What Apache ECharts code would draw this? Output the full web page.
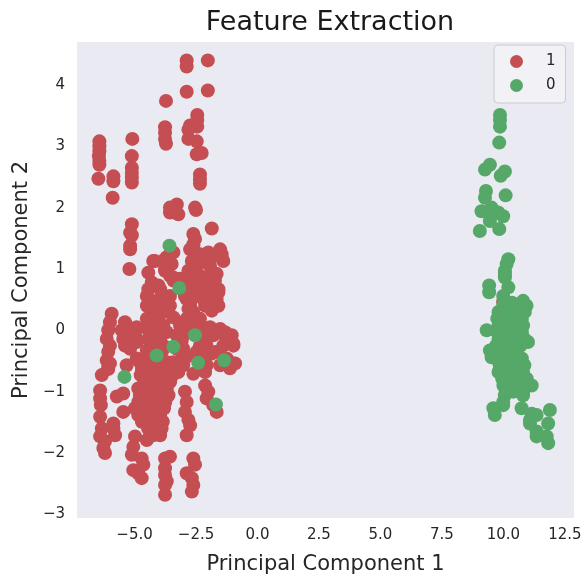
<!DOCTYPE html>
<html>
<head>
<meta charset="utf-8">
<title>Feature Extraction</title>
<script src="https://cdn.jsdelivr.net/npm/echarts@6.0.0/dist/echarts.min.js"></script>
<style>
  html, body { margin: 0; padding: 0; background: #ffffff; }
  #chart { width: 587px; height: 580px; }
</style>
</head>
<body>
<div id="chart"></div>
<script>
// PCA projection of the two classes: [PC1, PC2]
const class1Points = [
  // upper spread
  [-2.88,4.40],[-2.88,4.30],[-2.02,4.40],[-2.88,3.89],[-2.02,3.91],[-3.72,3.74],
  [-2.45,3.51],[-2.45,3.43],[-2.74,3.34],[-2.45,3.32],[-2.81,3.27],
  [-3.76,3.31],[-3.76,3.22],[-3.76,3.12],[-3.72,3.04],
  [-2.81,3.12],[-2.47,3.08],[-2.47,2.87],[-2.27,2.89],
  [-2.34,2.54],[-2.34,2.46],[-2.34,2.39],
  [-6.43,3.08],[-6.43,3.00],[-6.43,2.92],[-6.45,2.84],[-6.43,2.76],[-6.43,2.70],
  [-6.47,2.47],[-5.86,2.51],[-5.86,2.43],[-5.89,2.16],
  [-5.09,3.12],[-5.11,2.84],[-5.11,2.65],[-5.11,2.57],[-5.11,2.49],[-5.11,2.41],
  [-3.28,2.05],[-3.56,2.00],[-2.54,2.00],
  // middle band
  [-3.56,1.92],[-3.22,1.89],[-2.50,1.96],
  [-5.11,1.73],[-5.18,1.59],[-5.11,1.55],[-5.18,1.38],[-5.18,1.32],[-5.21,1.00],
  [-1.86,1.66],
  [-2.61,1.57],[-2.54,1.49],[-2.61,1.40],[-2.74,1.32],[-2.54,1.27],[-2.47,1.19],[-2.41,1.11],[-2.61,1.08],[-2.67,1.00],
  [-3.56,1.24],[-3.76,1.16],[-3.63,1.05],[-3.76,0.97],[-3.56,0.89],
  [-1.52,1.32],[-1.46,1.24],[-1.39,1.13],
  [-2.00,1.27],[-2.00,1.13],[-1.93,1.05],
  [-4.24,1.13],[-4.44,0.94],
  [-2.74,0.89],[-2.20,0.86],[-2.47,0.78],[-2.81,0.73],
  [-1.66,0.92],[-1.59,0.67],
  [-3.42,0.81],[-3.15,0.84],
  [-4.30,0.78],[-4.44,0.67],[-4.50,0.56],[-4.30,0.48],[-4.50,0.40],[-4.24,0.35],[-3.96,0.67],[-3.96,0.51],[-3.89,0.40],
  [-3.56,0.56],[-3.56,0.40],[-3.63,0.30],[-3.42,0.21],
  [-2.88,0.51],[-2.74,0.40],[-2.61,0.30],[-2.81,0.19],[-2.54,0.11],[-2.88,0.05],
  [-1.66,0.51],[-1.59,0.40],[-1.86,0.32],
  [-4.17,1.13],[-3.69,1.19],[-3.49,1.08],[-3.76,1.00],[-3.42,1.27],
  [-2.61,1.38],[-2.34,1.24],[-2.67,1.13],[-2.40,1.08],[-1.93,1.16],[-1.52,1.27],[-1.46,1.19],
  [-4.50,0.19],[-4.47,0.02],[-4.47,-0.62],
  [-4.03,0.73],[-3.89,0.56],[-4.10,0.40],[-3.83,0.32],[-4.03,0.19],[-3.96,-0.03],[-4.10,-0.19],[-3.89,-0.35],[-3.96,-0.52],[-3.69,-0.65],
  [-3.42,0.86],[-3.22,0.81],[-3.08,0.67],[-2.95,0.56],
  [-2.81,0.97],[-2.61,0.84],[-2.67,0.67],[-2.67,0.51],[-2.81,0.35],[-2.88,0.19],[-3.08,0.11],[-2.61,0.08],[-2.34,0.19],[-2.13,0.40],[-2.27,0.67],[-2.34,0.89],
  [-2.07,0.86],[-1.73,0.81],[-1.93,0.67],[-2.20,0.51],[-1.59,0.62],[-1.86,0.48],[-2.00,0.40],
  [-2.34,0.05],[-2.07,0.02],[-2.20,-0.11],[-1.80,-0.08],[-1.52,0.02],[-1.39,-0.06],[-0.98,-0.25],[-1.05,-0.08],
  [-2.95,-0.06],[-3.22,-0.19],[-3.02,-0.30],[-2.88,-0.43],[-3.02,-0.57],[-3.22,-0.68],[-3.56,-0.73],
  [-2.34,-0.25],[-2.47,-0.35],[-2.20,-0.46],[-2.34,-0.57],[-2.13,-0.68],[-2.61,-0.71],
  [-1.66,-0.35],[-1.39,-0.25],[-1.25,-0.46],[-1.52,-0.57],[-1.12,-0.62],[-0.91,-0.54],
  [-5.32,0.08],[-5.05,-0.03],[-5.32,-0.14],[-4.91,-0.14],[-5.18,-0.30],[-4.91,-0.46],[-5.32,-0.57],
  [-5.93,0.27],[-6.00,0.13],[-6.07,0.00],[-6.13,-0.14],[-6.00,-0.25],[-6.07,-0.35],[-6.13,-0.49],[-6.07,-0.60],
  [-5.39,0.13],[-5.52,0.00],[-5.46,-0.14],[-5.39,-0.25],
  [-4.91,0.05],[-4.98,-0.08],[-4.91,-0.19],
  [-4.37,0.13],[-4.30,0.00],[-4.44,-0.14],[-4.30,-0.25],[-4.50,-0.33],[-4.30,-0.44],[-4.37,-0.54],
  [-3.83,0.08],[-3.69,-0.03],[-3.96,-0.14],[-3.76,-0.27],
  [-3.15,0.08],[-3.28,-0.08],[-3.08,-0.17],[-3.28,-0.30],[-3.02,-0.41],[-3.22,-0.52],
  [-1.93,0.05],[-2.13,-0.14],[-2.07,-0.25],[-1.86,-0.38],[-2.20,-0.46],[-2.07,-0.57],
  [-1.32,-0.03],[-0.98,-0.22],[-0.98,-0.54],
  // lower spread
  [-6.33,-0.73],[-6.07,-0.63],[-6.00,-0.54],
  [-6.40,-0.98],[-6.40,-1.11],[-6.37,-1.22],[-6.40,-1.41],[-6.33,-1.60],[-6.40,-1.73],[-6.20,-1.81],[-6.27,-1.92],[-6.20,-2.00],
  [-5.86,-1.60],[-5.79,-1.71],[-5.86,-1.52],
  [-5.72,-1.08],[-5.46,-1.03],[-5.46,-1.33],
  [-4.98,-1.73],[-5.05,-1.90],[-5.11,-2.03],[-5.05,-2.28],[-4.85,-2.33],[-4.71,-2.41],[-4.50,-1.79],
  [-4.71,-2.09],[-4.64,-2.19],
  [-3.76,-2.09],[-3.56,-2.06],[-3.76,-2.25],[-3.76,-2.36],[-3.69,-2.46],[-3.76,-2.52],[-3.76,-2.68],
  [-2.61,-2.09],[-2.54,-2.19],[-2.88,-2.33],[-2.67,-2.41],[-2.61,-2.52],[-2.67,-2.63],
  [-2.95,-1.00],[-2.88,-1.17],[-2.95,-1.33],[-2.81,-1.46],[-2.74,-1.55],[-2.88,-1.71],
  [-2.13,-0.90],[-2.00,-1.00],[-2.07,-1.11],[-1.80,-1.22],[-1.66,-1.33],
  [-4.78,-0.52],[-4.50,-0.52],[-4.24,-0.52],[-3.96,-0.52],[-3.69,-0.52],[-3.42,-0.52],[-3.28,-0.55],
  [-4.70,-0.63],[-4.40,-0.63],[-4.15,-0.63],[-3.90,-0.63],[-3.60,-0.63],[-3.35,-0.63],
  [-4.75,-0.73],[-4.50,-0.73],[-4.24,-0.73],[-3.96,-0.73],[-3.69,-0.73],[-3.45,-0.73],
  [-4.60,-0.84],[-4.30,-0.84],[-4.05,-0.84],[-3.80,-0.84],[-3.55,-0.84],
  [-4.85,-0.95],[-4.50,-0.95],[-4.24,-0.95],[-3.96,-0.95],[-3.69,-0.95],
  [-4.78,-1.06],[-4.45,-1.06],[-4.15,-1.06],[-3.90,-1.06],[-3.62,-1.06],
  [-4.85,-1.17],[-4.55,-1.17],[-4.24,-1.17],[-3.96,-1.17],[-3.75,-1.17],
  [-4.98,-1.27],[-4.65,-1.27],[-4.35,-1.27],[-4.05,-1.27],[-3.80,-1.27],
  [-4.85,-1.38],[-4.55,-1.38],[-4.24,-1.38],[-3.96,-1.38],
  [-4.70,-1.49],[-4.40,-1.49],[-4.10,-1.49],[-3.85,-1.49],
  [-4.45,-1.60],[-4.15,-1.60],[-3.90,-1.60],
  [-4.24,-1.71],[-3.96,-1.71],
  [9.99,0.46]
];

const class0Points = [
  // mixed into the left cluster
  [-3.58,1.38],[-3.18,0.69],[-4.10,-0.41],[-3.42,-0.27],[-2.54,-0.08],[-2.41,-0.53],[-1.36,-0.49],[-5.41,-0.76],[-1.69,-1.21],
  // right cluster, upper arm
  [9.86,3.51],[9.86,3.43],[9.86,3.32],[9.83,3.06],
  [9.45,2.70],[9.25,2.62],[10.06,2.59],[9.89,2.52],
  [9.29,2.27],[9.25,2.16],[10.09,2.20],
  [9.11,1.94],[9.52,2.00],[9.52,1.89],[9.79,1.92],[9.99,1.86],[9.45,1.78],[9.04,1.62],[9.83,1.65],
  [10.20,1.16],[10.13,1.08],[10.06,0.97],[10.06,0.89],[10.06,0.94],[10.06,0.86],
  [9.42,0.73],[9.42,0.62],[10.20,0.70],[9.99,0.56],
  [10.80,0.48],[10.94,0.40],[10.67,0.38],[10.87,0.30],
  [10.00,0.42],[10.35,0.45],[10.60,0.42],
  // right cluster, core
  [9.80,0.30],[10.05,0.30],[10.30,0.30],[10.55,0.30],
  [9.75,0.19],[10.00,0.19],[10.25,0.19],[10.50,0.19],[10.75,0.19],
  [9.80,0.08],[10.05,0.08],[10.30,0.08],[10.55,0.08],[10.80,0.08],
  [9.75,-0.03],[10.00,-0.03],[10.25,-0.03],[10.50,-0.03],[10.75,-0.03],
  [9.80,-0.14],[10.05,-0.14],[10.30,-0.14],[10.55,-0.14],[10.85,-0.14],
  [9.70,-0.25],[9.95,-0.25],[10.20,-0.25],[10.45,-0.25],[10.70,-0.25],
  [9.80,-0.35],[10.05,-0.35],[10.30,-0.35],[10.55,-0.35],
  [9.70,-0.46],[9.95,-0.46],[10.20,-0.46],[10.45,-0.46],[10.75,-0.46],
  [9.85,-0.57],[10.10,-0.57],[10.35,-0.57],[10.60,-0.57],[10.85,-0.57],
  [9.80,-0.68],[10.05,-0.68],[10.30,-0.68],[10.55,-0.68],[10.80,-0.68],
  [9.95,-0.79],[10.20,-0.79],[10.45,-0.79],[10.70,-0.79],[10.95,-0.79],
  [10.00,-0.90],[10.25,-0.90],[10.50,-0.90],
  [10.10,-1.00],[10.40,-1.00],[10.65,-1.00],
  [9.32,0.00],[11.00,-0.19],[9.45,-0.33],[9.52,-0.44],
  // right cluster, lower tail
  [11.15,-0.90],[10.80,-1.00],[10.80,-1.06],
  [10.06,-1.06],[9.99,-1.17],[9.99,-1.22],
  [9.59,-1.27],[9.65,-1.38],
  [10.74,-1.27],[11.15,-1.36],[11.35,-1.38],[11.08,-1.46],[11.08,-1.52],
  [11.89,-1.30],[11.82,-1.52],
  [11.35,-1.65],[11.35,-1.73],[11.76,-1.73],[11.82,-1.84]
];

const xTickValues = [-5, -2.5, 0, 2.5, 5, 7.5, 10, 12.5];
const xTickLabels = ['\u22125.0', '\u22122.5', '0.0', '2.5', '5.0', '7.5', '10.0', '12.5'];
const yTickValues = [-3, -2, -1, 0, 1, 2, 3, 4];
const yTickLabels = ['\u22123', '\u22122', '\u22121', '0', '1', '2', '3', '4'];

const FONT = 'DejaVu Sans';
const INK = '#262626';

function labelFor(values, labels) {
  return function (v) {
    for (let i = 0; i < values.length; i++) {
      if (Math.abs(values[i] - v) < 1e-6) return labels[i];
    }
    return '';
  };
}

const chart = echarts.init(document.getElementById('chart'), null, { renderer: 'canvas' });

chart.setOption({
  animation: false,
  backgroundColor: '#ffffff',
  title: {
    text: 'Feature Extraction',
    left: 325,
    textAlign: 'center',
    top: 4,
    textStyle: { fontFamily: FONT, fontSize: 27, fontWeight: 'normal', color: '#1a1a1a' }
  },
  legend: {
    orient: 'vertical',
    left: 494,
    top: 45,
    padding: [9, 10, 10, 16],
    itemWidth: 13,
    itemHeight: 13,
    itemGap: 9,
    icon: 'circle',
    backgroundColor: 'rgba(255,255,255,0.35)',
    borderColor: '#cccccc',
    borderWidth: 1,
    borderRadius: 4,
    textStyle: { fontFamily: FONT, fontSize: 15, color: INK, padding: [0, 0, 0, 18] },
    data: ['1', '0']
  },
  grid: {
    left: 77, right: 13, top: 42, bottom: 60,
    show: true,
    backgroundColor: '#EAEAF2',
    borderWidth: 0
  },
  xAxis: {
    type: 'value',
    min: -7.34,
    max: 12.87,
    name: 'Principal Component 1',
    nameLocation: 'middle',
    nameGap: 36,
    nameTextStyle: { fontFamily: FONT, fontSize: 21, color: INK },
    axisLine: { show: false },
    axisTick: { show: false },
    splitLine: { show: false },
    axisLabel: {
      customValues: xTickValues,
      formatter: labelFor(xTickValues, xTickLabels),
      fontFamily: FONT, fontSize: 15, color: INK, margin: 10
    }
  },
  yAxis: {
    type: 'value',
    min: -3.06,
    max: 4.70,
    name: 'Principal Component 2',
    nameLocation: 'middle',
    nameGap: 45,
    nameTextStyle: { fontFamily: FONT, fontSize: 21, color: INK },
    axisLine: { show: false },
    axisTick: { show: false },
    splitLine: { show: false },
    axisLabel: {
      customValues: yTickValues,
      formatter: labelFor(yTickValues, yTickLabels),
      fontFamily: FONT, fontSize: 15, color: INK, margin: 12
    }
  },
  series: [
    {
      name: '1',
      type: 'scatter',
      data: class1Points,
      symbol: 'circle',
      symbolSize: 14,
      itemStyle: { color: '#C44E52', opacity: 1 },
      emphasis: { disabled: true }
    },
    {
      name: '0',
      type: 'scatter',
      data: class0Points,
      symbol: 'circle',
      symbolSize: 14,
      itemStyle: { color: '#55A868', opacity: 1 },
      emphasis: { disabled: true }
    }
  ]
});
</script>
</body>
</html>
